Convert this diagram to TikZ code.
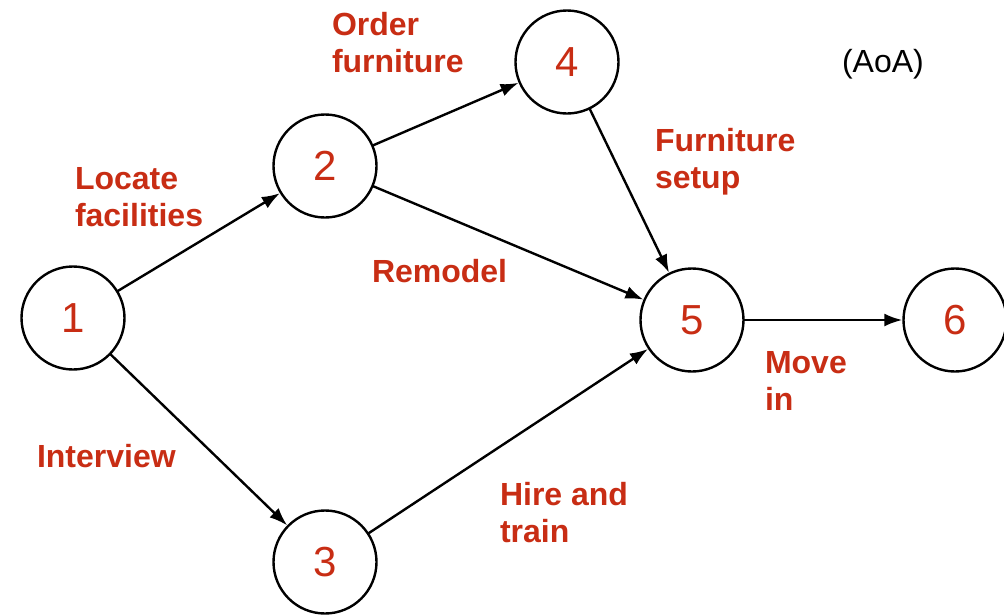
\documentclass[tikz,border=0pt]{standalone}
\usepackage{fontspec}
\setmainfont{Liberation Sans}
\usepackage{tikz}
\usetikzlibrary{arrows.meta}

\begin{document}
\begin{tikzpicture}[x=1pt,y=-1pt,line cap=rect]
	\definecolor{custcol_c8_2d_14}{RGB}{200, 45, 20}
	\definecolor{custcol_0_0_0}{RGB}{0, 0, 0}
	\tikzset{event/.style={circle, draw=custcol_0_0_0, line width=2.4pt, minimum size=103pt, inner sep=0, text=custcol_c8_2d_14, font=\fontsize{42pt}{42pt}\selectfont},
		activity/.style={inner sep=0, outer sep=0, anchor=base west, align=left, text=custcol_c8_2d_14, font=\fontsize{32pt}{37pt}\selectfont\bfseries},
		arc/.style={line width=2.4pt, custcol_0_0_0, -{Latex[length=18pt,width=13pt]}}}
	\useasboundingbox (0.0,0.0) rectangle (1004.0,614.0);
	% events
	\node[event] (e1) at (73.0,318.0) {1};
	\node[event] (e2) at (325.0,166.0) {2};
	\node[event] (e3) at (325.0,562.0) {3};
	\node[event] (e4) at (567.0,62.0) {4};
	\node[event] (e5) at (692.0,320.0) {5};
	\node[event] (e6) at (955.0,320.0) {6};
	% activities on the arcs (base = last line)
	\draw[arc] (e1) -- (e2);
	\draw[arc] (e1) -- (e3);
	\draw[arc] (e2) -- (e4);
	\draw[arc] (e2) -- (e5);
	\draw[arc] (e4) -- (e5);
	\draw[arc] (e3) -- (e5);
	\draw[arc] (e5) -- (e6);
	\node[activity] (locate) at (75.0,226.0) {Locate\\facilities};
	\node[activity] (order) at (332.0,72.0) {Order\\furniture};
	\node[activity] (setup) at (655.0,188.0) {Furniture\\setup};
	\node[activity] (remodel) at (372.0,282.0) {Remodel};
	\node[activity] (interview) at (37.0,467.0) {Interview};
	\node[activity] (hire) at (500.0,542.0) {Hire and\\train};
	\node[activity] (movein) at (765.0,410.0) {Move\\in};
	\node[inner sep=0, outer sep=0, anchor=base west, custcol_0_0_0, font=\fontsize{32pt}{32pt}\selectfont] (aoa) at (842.0,72.0) {(AoA)};
\end{tikzpicture}
\end{document}
